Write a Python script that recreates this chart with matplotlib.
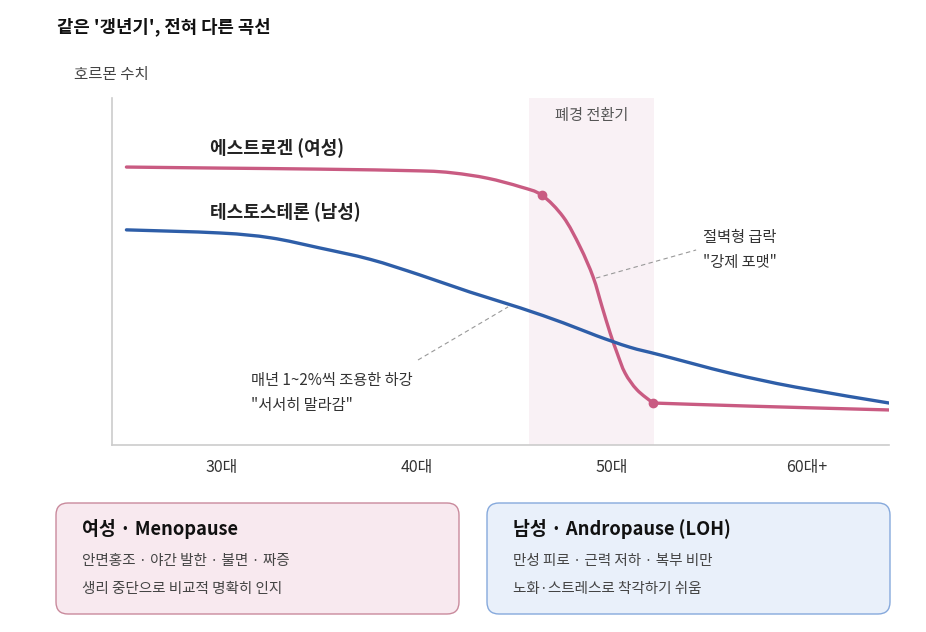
import matplotlib.pyplot as plt
from matplotlib.patches import FancyBboxPatch, PathPatch
from matplotlib.path import Path

plt.rcParams['font.family'] = ['Noto Sans CJK KR', 'DejaVu Sans']

# ages (x) and hormone level (0-100, relative)
est_age = [25.1, 29.9, 35.0, 40.15, 41.85, 43.6, 45.3, 46.4, 47.5, 48.36, 49.03, 49.49, 49.9,
           50.26, 50.67, 51.28, 52.1, 57.1, 64.2]
est_val = [80.1, 79.8, 79.5, 79.0, 78.4, 76.9, 74.4, 72.0, 65.7, 57.1, 48.4, 39.8, 32.3,
           26.5, 20.7, 15.9, 12.1, 11.2, 10.1]
tes_age = [25.1, 29.9, 32.5, 35.0, 37.6, 40.15, 42.7, 45.3, 47.5, 49.2, 50.9, 52.5, 56.05,
           59.4, 64.2]
tes_val = [62.0, 61.1, 59.7, 56.8, 53.5, 49.0, 44.1, 39.5, 35.2, 31.5, 28.2, 25.9, 20.7,
           16.7, 12.1]
est_marks_age = [46.4, 52.1]
est_marks_val = [72.0, 12.1]
band = (45.75, 52.15)
tick_pos = [30, 40, 50, 60]
tick_lab = ['30대', '40대', '50대', '60대+']

pink = '#c95b82'
blue = '#2e5ea8'


def smooth_path(xs, ys, breaks=()):
    # catmull-rom through every point, drawn as cubic bezier; tangents reset at breaks
    pts = list(zip(xs, ys))
    n = len(pts)
    verts = [pts[0]]
    codes = [Path.MOVETO]
    for i in range(n - 1):
        p0 = pts[i - 1] if i > 0 and i not in breaks else pts[i]
        p1, p2 = pts[i], pts[i + 1]
        p3 = pts[i + 2] if i + 2 < n and (i + 1) not in breaks else pts[i + 1]
        c1 = (p1[0] + (p2[0] - p0[0]) / 6, p1[1] + (p2[1] - p0[1]) / 6)
        c2 = (p2[0] - (p3[0] - p1[0]) / 6, p2[1] - (p3[1] - p1[1]) / 6)
        verts += [c1, c2, p2]
        codes += [Path.CURVE4] * 3
    return Path(verts, codes)


fig = plt.figure(figsize=(9.26, 6.32), dpi=100)
bg = fig.add_axes([0, 0, 1, 1])
bg.set_xlim(0, 926)
bg.set_ylim(632, 0)
bg.axis('off')

ax = fig.add_axes([112 / 926, (632 - 445) / 632, (889 - 112) / 926, (445 - 98) / 632])
ax.set_xlim(24.36, 64.2)
ax.set_ylim(0, 100)
ax.patch.set_alpha(0)

ax.axvspan(band[0], band[1], color='#f9f1f5', zorder=0, lw=0)
ax.text(sum(band) / 2, 95.1, '폐경 전환기', ha='center', va='center', fontsize=11, color='#555555')

ax.add_patch(PathPatch(smooth_path(est_age, est_val, breaks=(16,)), fc='none', ec=pink, lw=2.4,
                       capstyle='round', joinstyle='round', zorder=3))
ax.add_patch(PathPatch(smooth_path(tes_age, tes_val), fc='none', ec=blue, lw=2.4,
                       capstyle='round', joinstyle='round', zorder=3))
ax.plot(est_marks_age, est_marks_val, 'o', color=pink, ms=6, zorder=4)

ax.text(29.38, 85.6, '에스트로겐 (여성)', fontsize=13, fontweight='bold', va='center', color='#222222')
ax.text(29.38, 67.1, '테스토스테론 (남성)', fontsize=13, fontweight='bold', va='center', color='#222222')

# annotations
ax.plot([49.18, 54.31], [48.1, 56.2], ls=(0, (4, 3)), color='#999999', lw=0.8, zorder=2)
ax.text(54.67, 59.7, '절벽형 급락', fontsize=11, va='center', color='#333333')
ax.text(54.67, 52.7, '"강제 포맷"', fontsize=11, va='center', color='#333333')
ax.plot([40.05, 44.67], [24.5, 39.8], ls=(0, (4, 3)), color='#999999', lw=0.8, zorder=2)
ax.text(31.49, 18.7, '매년 1~2%씩 조용한 하강', fontsize=11, va='center', color='#333333')
ax.text(31.49, 11.5, '"서서히 말라감"', fontsize=11, va='center', color='#333333')

for s in ['top', 'right']:
    ax.spines[s].set_visible(False)
for s in ['left', 'bottom']:
    ax.spines[s].set_color('#cccccc')
    ax.spines[s].set_linewidth(1.2)
ax.set_yticks([])
ax.set_xticks(tick_pos)
ax.set_xticklabels(tick_lab, fontsize=11.5, color='#333333')
ax.tick_params(axis='x', length=0, pad=10)

# title and y label
bg.text(57, 27, "같은 '갱년기', 전혀 다른 곡선", fontsize=12.8, fontweight='bold', va='center', color='#111111')
bg.text(74, 75, '호르몬 수치', fontsize=11.2, va='center', color='#444444')

# info boxes
boxes = [
    (56, '#f8e9ef', '#c98a9c', '여성 · Menopause',
     ['안면홍조 · 야간 발한 · 불면 · 짜증', '생리 중단으로 비교적 명확히 인지']),
    (487, '#e9f0fa', '#86a9dc', '남성 · Andropause (LOH)',
     ['만성 피로 · 근력 저하 · 복부 비만', '노화·스트레스로 착각하기 쉬움']),
]
for x0, fc, ec, head, lines in boxes:
    p = FancyBboxPatch((x0, 503), 403, 111, boxstyle='round,pad=0,rounding_size=12',
                       fc=fc, ec=ec, lw=1.0)
    bg.add_patch(p)
    bg.text(x0 + 26, 529, head, fontsize=13.2, fontweight='bold', va='center', color='#111111')
    bg.text(x0 + 26, 561, lines[0], fontsize=10.5, va='center', color='#444444')
    bg.text(x0 + 26, 589, lines[1], fontsize=10.5, va='center', color='#444444')

fig.savefig('out.png', dpi=100, facecolor='white')
